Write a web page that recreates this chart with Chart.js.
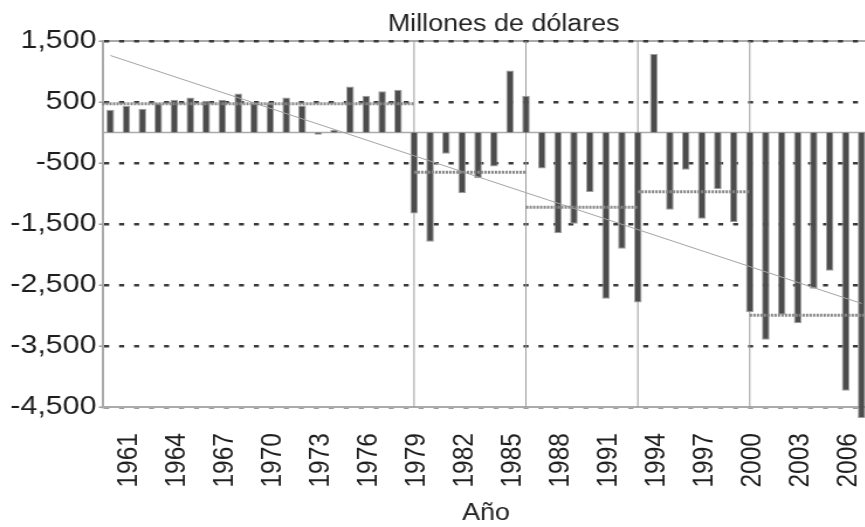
<!DOCTYPE html>
<html lang="es">
<head>
<meta charset="utf-8">
<title>Millones de dólares</title>
<script src="https://cdn.jsdelivr.net/npm/chart.js@4.4.1/dist/chart.umd.min.js"></script>
<style>
  html, body { margin: 0; padding: 0; background: #fff; overflow: hidden; }
  /* la figura original esta estirada a lo ancho */
  #marco { position: absolute; left: 0; top: 0; width: 784px; height: 527px; transform: scaleX(1.17); transform-origin: 0 0; }
</style>
</head>
<body>
<div id="marco"><canvas id="grafico" width="784" height="527"></canvas></div>
<script>
// AÑOS
const anios = [
  1960, 1961, 1962, 1963, 1964, 1965, 1966, 1967, 1968, 1969,
  1970, 1971, 1972, 1973, 1974, 1975, 1976, 1977, 1978, 1979,
  1980, 1981, 1982, 1983, 1984, 1985, 1986, 1987, 1988, 1989,
  1990, 1991, 1992, 1993, 1994, 1995, 1996, 1997, 1998, 1999,
  2000, 2001, 2002, 2003, 2004, 2005, 2006, 2007
];

// SALDO (millones de dólares)
const saldo = [
  372, 438, 389, 481, 536, 574, 520, 536, 640, 481,
  481, 574, 443, -38, 44, 754, 602, 678, 700, -1328,
  -1792, -349, -994, -748, -557, 1016, 602, -590, -1650, -1497,
  -977, -2726, -1907, -2787, 1285, -1267, -611, -1415, -928, -1469,
  -2945, -3398, -2989, -3125, -2562, -2267, -4234, -4682
];

// ETIQUETAS
const etiquetasX = [1961, 1964, 1967, 1970, 1973, 1976, 1979, 1982, 1985, 1988, 1991, 1994, 1997, 2000, 2003, 2006];
const ticksY = [1500, 500, -500, -1500, -2500, -3500, -4500];

// TENDENCIA
const tendenciaAnios = [1960, 2007];
const tendenciaValores = [1262, -2803];

// PERIODOS
const cortes = [1979, 1986, 1993, 2000];
const periodoDesde = [1960, 1979, 1986, 1993, 2000];
const periodoHasta = [1979, 1986, 1993, 2000, 2007];
const promedios = [470, -650, -1225, -973, -2995];

const titulo = "Millones de dólares";
const FUENTE = "'Liberation Sans', Arial, sans-serif";

const formato = (v) =>
  (v < 0 ? "-" : "") + String(Math.abs(v)).replace(/\B(?=(\d{3})+(?!\d))/g, ",");

const datosTendencia = anios.map((a) => {
  const i = tendenciaAnios.indexOf(a);
  return i >= 0 ? tendenciaValores[i] : null;
});

const lineasExtra = {
  id: "lineasExtra",
  beforeDraw(chart) {
    const { ctx, chartArea: a } = chart;
    ctx.save();
    ctx.strokeStyle = "#aaaaaa";
    ctx.lineWidth = 2;
    ctx.beginPath();
    ctx.moveTo(a.left, a.top);
    ctx.lineTo(a.right, a.top);
    ctx.stroke();
    ctx.restore();
  },
  beforeDatasetsDraw(chart) {
    const { ctx, chartArea: a, scales: { x, y } } = chart;
    ctx.save();

    // linea del cero
    const y0 = y.getPixelForValue(0);
    ctx.strokeStyle = "#aaaaaa";
    ctx.lineWidth = 1.5;
    ctx.beginPath();
    ctx.moveTo(a.left, y0);
    ctx.lineTo(a.right, y0);
    ctx.stroke();

    // cortes de periodo
    ctx.strokeStyle = "#9a9a9a";
    ctx.lineWidth = 1;
    cortes.forEach((c) => {
      const px = x.getPixelForValue(anios.indexOf(c));
      ctx.beginPath();
      ctx.moveTo(px, a.top);
      ctx.lineTo(px, a.bottom);
      ctx.stroke();
    });
    ctx.restore();
  },
  afterDatasetsDraw(chart) {
    const { ctx, chartArea: a, scales: { x, y } } = chart;
    ctx.save();
    ctx.strokeStyle = "#888888";
    ctx.lineWidth = 3;
    ctx.setLineDash([2, 1]);
    promedios.forEach((p, i) => {
      const x1 = i === 0 ? a.left : x.getPixelForValue(anios.indexOf(periodoDesde[i]));
      const x2 = i === promedios.length - 1 ? a.right : x.getPixelForValue(anios.indexOf(periodoHasta[i]));
      const py = y.getPixelForValue(p);
      ctx.beginPath();
      ctx.moveTo(x1, py);
      ctx.lineTo(x2, py);
      ctx.stroke();
    });
    ctx.restore();
  },
  afterDraw(chart) {
    const { ctx } = chart;
    ctx.save();
    ctx.font = `23px ${FUENTE}`;
    ctx.fillStyle = "#222222";
    ctx.textAlign = "center";
    ctx.textBaseline = "alphabetic";
    ctx.fillText(titulo, 430.5, 31);
    ctx.restore();
  }
};

const ctx = document.getElementById("grafico").getContext("2d");

const grafico = new Chart(ctx, {
  data: {
    labels: anios,
    datasets: [
      {
        type: "line",
        data: datosTendencia,
        borderColor: "#a3a3a3",
        borderWidth: 1,
        pointRadius: 0,
        spanGaps: true,
        order: 0
      },
      {
        type: "bar",
        data: saldo,
        backgroundColor: "#4c4c4c",
        borderColor: "#9d9d9d",
        borderWidth: 1,
        barPercentage: 0.48,
        categoryPercentage: 1,
        clip: 12,
        order: 1
      }
    ]
  },
  options: {
    responsive: false,
    animation: false,
    devicePixelRatio: 1,
    layout: { padding: { top: 41, right: 16, bottom: 0, left: 0 } },
    plugins: {
      legend: { display: false },
      tooltip: { enabled: false },
      title: { display: false }
    },
    scales: {
      x: {
        type: "category",
        offset: true,
        grid: { display: false },
        border: { display: true, color: "#aaaaaa", width: 2 },
        ticks: {
          autoSkip: false,
          minRotation: 90,
          maxRotation: 90,
          padding: 18,
          labelOffset: 2,
          color: "#1e1e1e",
          font: { family: FUENTE, size: 24.5 },
          callback: (v, i) => (etiquetasX.includes(anios[i]) ? String(anios[i]) : "")
        },
        title: {
          display: true,
          text: "Año",
          color: "#222222",
          padding: 0,
          font: { family: FUENTE, size: 23, lineHeight: 1.2 }
        },
        afterFit: (s) => { s.height = 120; }
      },
      y: {
        min: -4500,
        max: 1500,
        grid: {
          color: "#3a3a3a",
          lineWidth: 2.5,
          tickLength: 3,
          tickColor: "#999999",
          tickWidth: 1.5
        },
        border: { display: true, color: "#aaaaaa", width: 2, dash: [4.3, 8.5] },
        ticks: {
          padding: 2,
          color: "#1e1e1e",
          font: { family: FUENTE, size: 26 },
          callback: (v) => formato(v)
        },
        afterBuildTicks: (s) => { s.ticks = ticksY.map((v) => ({ value: v })); },
        afterFit: (s) => { s.width = 87.5; }
      }
    }
  },
  plugins: [lineasExtra]
});
</script>
</body>
</html>
